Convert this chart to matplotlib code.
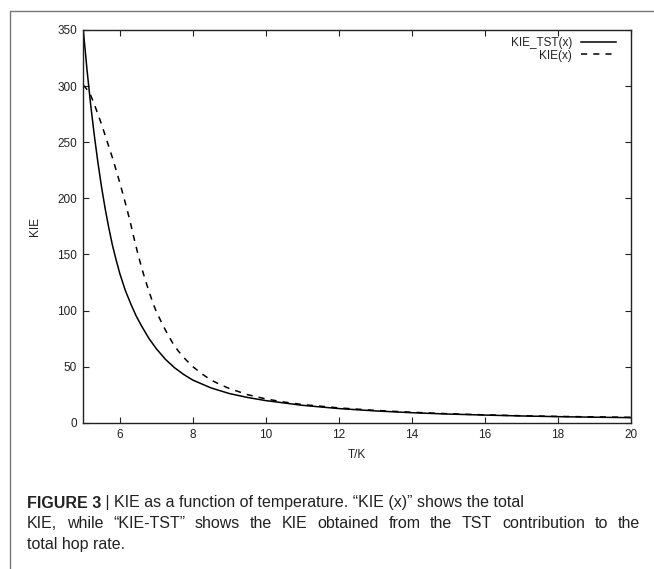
import matplotlib
matplotlib.use("Agg")
import matplotlib.pyplot as plt
from matplotlib.lines import Line2D

plt.rcParams['font.family'] = ['Liberation Sans', 'DejaVu Sans']

# values
T_tst = [5.0, 5.1, 5.2, 5.3, 5.4, 5.5, 5.6, 5.7, 5.8, 5.9, 6.0, 6.15, 6.3, 6.45, 6.6,
         6.8, 7.0, 7.25, 7.5, 7.75, 8.0, 8.5, 9.0, 9.5, 10, 11, 12, 13, 14, 15, 16, 17, 18, 19, 20]
kie_tst = [350, 315, 284, 256.5, 232, 210, 190.6, 173.4, 158, 145, 133, 118, 106, 95, 86,
           75, 66, 56.5, 49, 43, 38, 31, 26, 22.5, 19.7, 15.5, 12.6, 10.5, 8.9, 7.7, 6.8, 6.0, 5.4, 4.9, 4.5]

T_kie = [5.0, 5.1, 5.2, 5.3, 5.4, 5.5, 5.6, 5.7, 5.8, 5.9, 6.0, 6.1, 6.2, 6.3, 6.4, 6.5,
         6.6, 6.7, 6.8, 6.9, 7.0, 7.15, 7.3, 7.45, 7.6, 7.8, 8.0, 8.25, 8.5, 8.75, 9.0,
         9.5, 10, 10.5, 11, 12, 13, 14, 15, 16, 17, 18, 19, 20]
kie_tot = [301, 297, 292, 284, 275, 266, 256, 246, 236, 225, 214, 202, 190, 177, 163, 150,
           138, 127, 117, 107.5, 99, 89, 79.5, 71, 64, 56.5, 50, 43.5, 38, 34, 30.5,
           25, 21.2, 18.4, 16.2, 13.2, 11, 9.3, 8.0, 7.0, 6.2, 5.6, 5.2, 4.8]

xticks = [6, 8, 10, 12, 14, 16, 18, 20]
yticks = [0, 50, 100, 150, 200, 250, 300, 350]

W, H = 654, 569
fig = plt.figure(figsize=(W / 100, H / 100), dpi=100)

# axes box in pixels: left 83, right 631, top 30, bottom 423
ax = fig.add_axes([83.3 / W, 1 - 422.7 / H, (630.7 - 83.3) / W, (422.7 - 30) / H])

ax.plot(T_tst, kie_tst, color='black', lw=1.1, label='KIE_TST(x)')
ax.plot(T_kie, kie_tot, color='black', lw=1.1, ls=(0, (4, 4)), label='KIE(x)')

ax.set_xlim(5, 20)
ax.set_ylim(0, 350)
ax.set_xticks(xticks)
ax.set_yticks(yticks)
ax.tick_params(direction='in', length=4.5, width=0.8, top=True, right=True,
               labelsize=8.5, colors='#222222', pad=4.5)
for s in ax.spines.values():
    s.set_linewidth(1.0)
    s.set_color('#222222')

leg = ax.legend(loc='upper right', bbox_to_anchor=(616 / W, 1 - 37 / H),
                bbox_transform=fig.transFigure, frameon=False, markerfirst=False,
                fontsize=8.5, handlelength=3.0, handletextpad=0.7,
                labelspacing=0.05, borderpad=0, borderaxespad=0)
for t in leg.get_texts():
    t.set_color('#222222')

fig.text(35 / W, 1 - 227 / H, 'KIE', rotation=90, ha='center', va='center',
         fontsize=8.5, color='#222222')
fig.text(357 / W, 1 - 455 / H, 'T/K', ha='center', va='center',
         fontsize=8.5, color='#222222')

# outer frame of the figure panel
fig.add_artist(Line2D([9.5 / W, 9.5 / W, 1], [0, 1 - 10.7 / H, 1 - 10.7 / H],
                      transform=fig.transFigure, color='#777777', lw=1.0))

# caption
cap_size = 11.5
y1 = 1 - 503 / H
b = fig.text(27 / W, y1, 'FIGURE 3', fontsize=cap_size, fontweight='bold',
             color='#222222', va='center')
ax.annotate(' | KIE as a function of temperature. \u201cKIE (x)\u201d shows the total',
            xy=(1, 0.5), xycoords=b, va='center', ha='left',
            fontsize=cap_size, color='#222222', annotation_clip=False)

# second caption line is justified to the full width (27 .. 640 px)
line2 = 'KIE, while \u201cKIE-TST\u201d shows the KIE obtained from the TST contribution to the'
words = line2.split(' ')
renderer = fig.canvas.get_renderer()
objs = [fig.text(0, 1 - 524 / H, w, fontsize=cap_size, color='#222222', va='center')
        for w in words]
widths = [o.get_window_extent(renderer).width for o in objs]
gap = (640 - 27 - sum(widths)) / (len(words) - 1)
x = 27
for o, w in zip(objs, widths):
    o.set_x(x / W)
    x += w + gap

fig.text(27 / W, 1 - 545 / H, 'total hop rate.', fontsize=cap_size,
         color='#222222', va='center')

fig.savefig('out.png', dpi=100)
